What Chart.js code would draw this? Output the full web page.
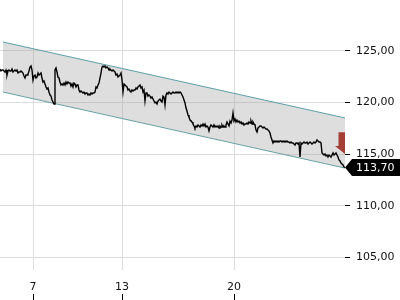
<!DOCTYPE html>
<html><head><meta charset="utf-8">
<script src="https://cdn.jsdelivr.net/npm/chart.js@4.4.0/dist/chart.umd.min.js"></script>
<style>html,body{margin:0;padding:0;background:#fff;}canvas{display:block;}</style>
</head><body>
<canvas id="c" width="400" height="300"></canvas>
<script>
// price samples (uniform time steps)
const priceValues = [
123.23,123.04,123.13,123.13,123.04,122.94,123.13,122.65,123.04,123.13,123.04,123.04,123.23,122.94,122.94,123.13,123.04,123.13,122.84,122.94,
122.94,123.04,122.94,122.84,122.55,122.36,122.65,122.65,122.74,123.04,123.42,123.52,123.13,122.16,122.55,122.65,122.36,122.45,122.84,122.65,
122.74,122.84,122.36,121.97,122.07,121.78,121.49,121.29,121.39,121.00,120.71,120.61,120.23,120.03,119.84,123.13,123.33,122.94,122.45,122.36,
121.97,121.68,121.78,121.68,121.87,121.68,121.97,121.78,121.97,121.87,121.87,121.58,121.78,121.49,121.87,121.78,121.49,121.68,121.68,121.20,
121.00,121.10,121.00,120.91,121.00,120.81,120.91,120.91,120.71,120.81,120.71,120.91,120.81,120.91,120.91,121.00,121.49,121.39,121.68,121.87,
122.36,122.84,123.42,123.52,123.42,123.52,123.33,123.42,123.33,123.13,123.23,123.13,123.04,123.13,123.04,122.94,122.65,122.74,122.45,122.55,
122.65,122.84,122.16,121.00,121.78,121.68,121.58,121.49,121.20,121.29,121.10,121.00,121.20,121.10,121.20,121.20,121.39,121.29,121.49,121.58,
121.68,121.39,121.49,121.00,121.20,120.13,120.91,120.91,120.61,120.71,120.61,120.42,120.52,120.32,120.13,119.94,120.03,119.84,120.13,120.23,
120.32,120.13,120.03,120.61,120.52,119.74,120.71,120.91,120.81,121.00,120.91,120.81,120.91,121.00,120.91,120.91,121.00,120.91,121.00,120.91,
121.00,120.91,120.71,120.52,120.23,119.94,119.45,119.16,118.78,118.58,118.29,118.19,118.10,117.90,117.71,117.52,117.71,117.61,117.81,117.71,
117.61,117.81,117.71,117.90,117.71,117.90,117.61,117.71,117.61,117.23,117.61,117.81,117.71,117.61,117.81,117.61,117.71,117.61,117.71,117.52,
117.71,117.61,117.81,117.61,117.71,117.61,117.81,118.10,117.90,117.71,118.19,118.00,118.29,118.97,118.19,118.39,118.10,118.29,118.10,118.19,
118.00,118.10,117.90,118.00,117.81,117.90,117.90,118.00,117.90,118.10,118.00,118.19,117.90,118.10,117.90,117.81,117.32,117.13,117.52,117.61,
117.71,117.71,117.61,117.52,117.61,117.52,117.42,117.42,117.32,117.23,117.03,116.65,116.36,116.07,116.26,116.16,116.26,116.16,116.26,116.16,
116.26,116.26,116.16,116.26,116.16,116.26,116.16,116.26,116.16,116.16,116.07,116.16,116.07,116.07,115.97,115.87,116.07,116.07,115.97,116.07,
114.71,116.07,115.97,116.07,116.16,116.07,116.07,116.16,115.97,116.07,116.16,116.07,115.97,116.07,116.16,116.07,116.16,116.36,116.26,116.16,
116.16,116.07,115.10,115.00,114.90,115.00,114.81,114.90,114.71,114.90,114.81,114.71,114.90,115.10,114.90,115.00,115.10,114.90,114.71,114.42,
114.32,114.13,114.03,113.94,113.74,113.70
];
// trend channel (start/end sample, upper and lower values)
const channelX = [3, 345];
const channelUpper = [125.84, 118.49];
const channelLower = [121.00, 113.64];
// x tick labels (day of month) and the sample at which each day starts
const xTickPos = [33, 122, 234];
const xTickLabels = ['7', '13', '20'];
const yTickValues = [105, 110, 115, 120, 125];
// signal arrow (from / to value)
const signalFrom = 117.1;
const signalTo = 115.0;
const lastValue = priceValues[priceValues.length - 1];

const fmt = v => v.toFixed(2).replace('.', ',');
Chart.defaults.font.family = "'DejaVu Sans', sans-serif";
Chart.defaults.font.size = 11;
Chart.defaults.color = '#111';

const overlay = {
  id: 'overlay',
  afterDraw(chart) {
    const {ctx, chartArea: a, scales: {x, y}} = chart;
    // signal arrow, clipped to plot area
    ctx.save();
    ctx.beginPath(); ctx.rect(a.left, a.top, a.right - a.left, a.bottom - a.top); ctx.clip();
    const ax = x.getPixelForValue(priceValues.length - 1);
    const yTop = y.getPixelForValue(signalFrom), yTip = y.getPixelForValue(signalTo);
    const yHead = yTip - 8;
    ctx.fillStyle = 'rgba(160,45,35,0.9)';
    ctx.beginPath();
    ctx.moveTo(ax - 6.5, yTop); ctx.lineTo(ax + 6.5, yTop); ctx.lineTo(ax + 6.5, yHead);
    ctx.lineTo(ax + 10, yHead); ctx.lineTo(ax, yTip); ctx.lineTo(ax - 10, yHead);
    ctx.lineTo(ax - 6.5, yHead); ctx.closePath(); ctx.fill();
    ctx.restore();
    // small tick marks under the x labels
    ctx.save(); ctx.strokeStyle = '#000'; ctx.lineWidth = 1;
    xTickPos.forEach(p => {
      const px = Math.round(x.getPixelForValue(p)) + 0.5;
      ctx.beginPath(); ctx.moveTo(px, x.bottom - 6); ctx.lineTo(px, x.bottom); ctx.stroke();
    });
    ctx.restore();
    // last value label
    const ly = y.getPixelForValue(lastValue);
    const lx = a.right;
    ctx.save(); ctx.fillStyle = '#000';
    ctx.beginPath();
    ctx.moveTo(lx, ly); ctx.lineTo(lx + 7, ly - 8.5); ctx.lineTo(chart.width, ly - 8.5);
    ctx.lineTo(chart.width, ly + 8.5); ctx.lineTo(lx + 7, ly + 8.5); ctx.closePath(); ctx.fill();
    ctx.fillStyle = '#fff'; ctx.font = "11px 'DejaVu Sans'"; ctx.textBaseline = 'middle'; ctx.textAlign = 'left';
    ctx.fillText(fmt(lastValue), lx + 11, ly + 0.5);
    ctx.restore();
  }
};

new Chart(document.getElementById('c'), {
  type: 'line',
  data: {
    datasets: [
      { data: priceValues.map((v, i) => ({x: i, y: v})), borderColor: '#000', borderWidth: 1.4,
        pointRadius: 0, tension: 0, fill: false },
      { data: channelX.map((xv, i) => ({x: xv, y: channelUpper[i]})), borderColor: '#5b9fa6', borderWidth: 1,
        pointRadius: 0, fill: '+1', backgroundColor: 'rgba(160,160,160,0.35)' },
      { data: channelX.map((xv, i) => ({x: xv, y: channelLower[i]})), borderColor: '#5b9fa6', borderWidth: 1,
        pointRadius: 0, fill: false }
    ]
  },
  options: {
    responsive: false,
    animation: false,
    devicePixelRatio: 1,
    layout: { padding: 0 },
    plugins: { legend: { display: false }, tooltip: { enabled: false } },
    scales: {
      x: {
        type: 'linear', position: 'bottom', min: 0, max: priceValues.length - 1,
        grid: { color: '#dcdcdc', drawTicks: false },
        border: { display: false },
        ticks: { padding: 11, maxRotation: 0, autoSkip: false,
          callback: (v) => xTickLabels[xTickPos.indexOf(v)] },
        afterBuildTicks: s => { s.ticks = xTickPos.map(v => ({value: v})); },
        afterFit: s => { s.height = 30; s.paddingLeft = 0; s.paddingRight = 0; }
      },
      y: {
        type: 'linear', position: 'right', min: 103.77, max: 129.91,
        grid: { color: '#dcdcdc', tickColor: '#000', tickLength: 5 },
        border: { display: false },
        ticks: { padding: 6, callback: v => fmt(v) },
        afterBuildTicks: s => { s.ticks = yTickValues.map(v => ({value: v})); },
        afterFit: s => { s.width = 55; s.paddingTop = 0; s.paddingBottom = 0; }
      }
    }
  },
  plugins: [overlay]
});
</script>
</body></html>
